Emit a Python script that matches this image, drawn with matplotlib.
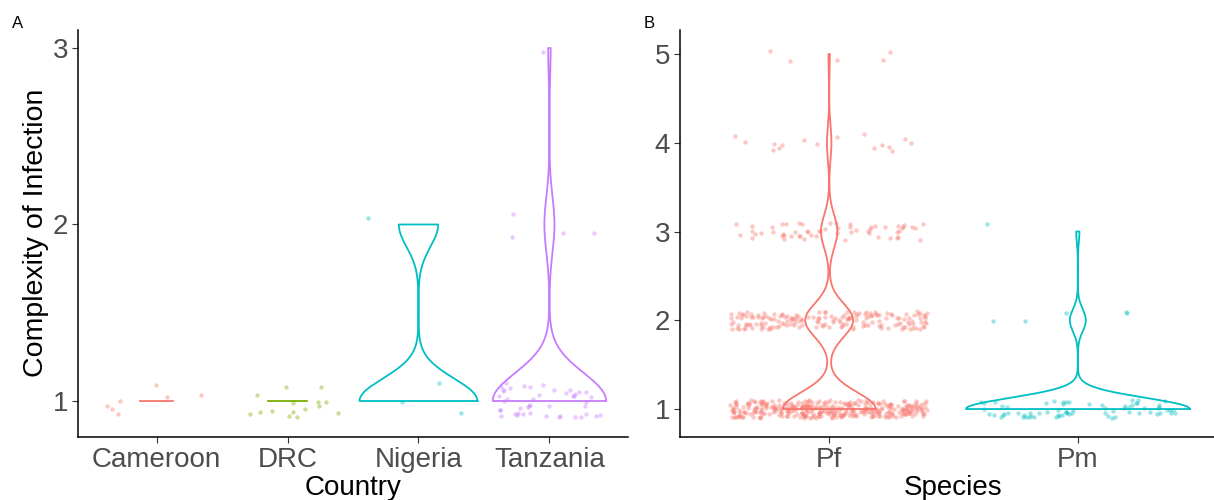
import numpy as np
import matplotlib
matplotlib.use("Agg")
import matplotlib.pyplot as plt

# -----------------------------------------------------
# DATA — number of samples at each COI level
# -----------------------------------------------------
countries = ["Cameroon", "DRC", "Nigeria", "Tanzania"]
country_levels = [1, 2, 3]
cameroon_counts = [7, 0, 0]
drc_counts = [15, 0, 0]
nigeria_counts = [3, 1, 0]
tanzania_counts = [45, 4, 1]

species = ["Pf", "Pm"]
species_levels = [1, 2, 3, 4, 5]
pf_counts = [330, 170, 58, 16, 5]
pm_counts = [70, 5, 1, 0, 0]

country_colors = ["#F8766D", "#7CAE00", "#00BFC4", "#C77CFF"]
species_colors = ["#F8766D", "#00BFC4"]

plt.rcParams["font.family"] = ["Liberation Sans", "DejaVu Sans"]

rng = np.random.default_rng(11)


def expand(levels, counts):
    return np.repeat(np.array(levels, dtype=float), counts)


def bw_nrd0(x):
    # same rule as R's default bandwidth
    hi = np.std(x, ddof=1) if len(x) > 1 else 0.0
    q75, q25 = np.percentile(x, [75, 25])
    lo = min(hi, (q75 - q25) / 1.34)
    if lo == 0:
        lo = hi if hi > 0 else (abs(x[0]) if x[0] != 0 else 1.0)
    return 0.9 * lo * len(x) ** -0.2


def violin_density(x):
    bw = bw_nrd0(x)
    ys = np.linspace(x.min(), x.max(), 512)
    vals, cnt = np.unique(x, return_counts=True)
    dens = np.zeros_like(ys)
    for v, c in zip(vals, cnt):
        dens += c * np.exp(-0.5 * ((ys - v) / bw) ** 2)
    dens /= len(x) * bw * np.sqrt(2 * np.pi)
    return ys, dens


def draw_panel(ax, groups, colors, names):
    curves = [violin_density(g) for g in groups]
    top = max(d.max() for _, d in curves)
    for i, ((ys, dens), g, col) in enumerate(zip(curves, groups, colors), start=1):
        half = 0.45 * dens / top
        if ys[0] == ys[-1]:
            ax.plot([i - half[0], i + half[0]], [ys[0], ys[0]], color=col, lw=1.3)
        else:
            px = np.concatenate([i + half, (i - half)[::-1], [i + half[0]]])
            py = np.concatenate([ys, ys[::-1], [ys[0]]])
            ax.plot(px, py, color=col, lw=1.3)
        jx = i + rng.uniform(-0.4, 0.4, len(g))
        jy = g + rng.uniform(-0.1, 0.1, len(g))
        ax.scatter(jx, jy, s=10, color=col, alpha=0.4, linewidths=0, zorder=3)

    ax.set_xticks(range(1, len(names) + 1))
    ax.set_xticklabels(names)
    for side in ["top", "right"]:
        ax.spines[side].set_visible(False)
    for side in ["left", "bottom"]:
        ax.spines[side].set_linewidth(1.1)
        ax.spines[side].set_color("black")
    ax.tick_params(axis="both", labelsize=20, labelcolor="#4D4D4D",
                   color="#333333", length=4, width=0.8, pad=3)


fig = plt.figure(figsize=(12.14, 5.0), dpi=100)
W, H = 1214, 500

# panel A — by country
ax_a = fig.add_axes([78 / W, 63 / H, 550 / W, 407 / H])
country_groups = [expand(country_levels, c) for c in
                  [cameroon_counts, drc_counts, nigeria_counts, tanzania_counts]]
draw_panel(ax_a, country_groups, country_colors, countries)
ax_a.set_xlim(0.4, 4.6)
ax_a.set_ylim(0.796, 3.102)
ax_a.set_yticks([1, 2, 3])

# panel B — by species
ax_b = fig.add_axes([680 / W, 63 / H, 547 / W, 407 / H])
species_groups = [expand(species_levels, c) for c in [pf_counts, pm_counts]]
draw_panel(ax_b, species_groups, species_colors, species)
ax_b.set_xlim(0.4, 2.6)
ax_b.set_ylim(0.685, 5.27)
ax_b.set_yticks([1, 2, 3, 4, 5])

fig.text(36 / W, 1 - 233 / H, "Complexity of Infection", rotation=90,
         ha="center", va="center", fontsize=20.5, color="black")
fig.text(353 / W, 1 - 495 / H, "Country", ha="center", va="baseline",
         fontsize=20, color="black")
fig.text(953 / W, 1 - 495 / H, "Species", ha="center", va="baseline",
         fontsize=20, color="black")
fig.text(12 / W, 1 - 28 / H, "A", fontsize=12, va="baseline")
fig.text(644 / W, 1 - 28 / H, "B", fontsize=12, va="baseline")

fig.savefig("out.png", dpi=100)
